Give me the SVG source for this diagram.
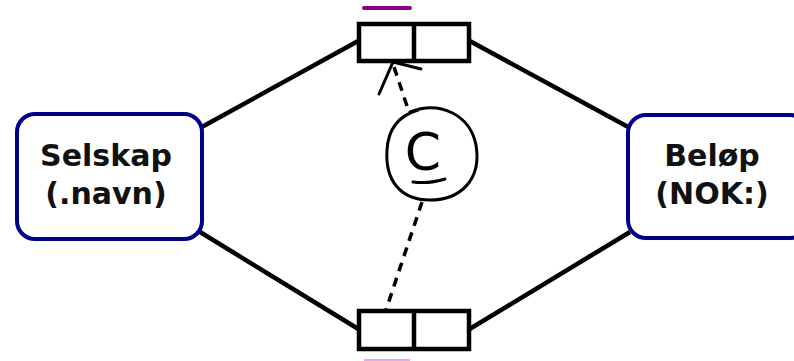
<svg xmlns="http://www.w3.org/2000/svg" width="794" height="361" viewBox="0 0 794 361">
<style>
.node{fill:#fff;stroke:#00008b;stroke-width:4}
.lbl{font-family:"DejaVu Sans",Verdana,sans-serif;font-weight:bold;font-size:30px;fill:#111;text-anchor:middle}
.edge{stroke:#000;stroke-width:4.5;fill:none}
.box{fill:#fff;stroke:#000;stroke-width:4.5}
.hand{stroke:#000;stroke-width:3;fill:none;stroke-linecap:round}
.dash{stroke:#000;stroke-width:3.5;fill:none;stroke-dasharray:9 7}
</style>
<g id="connectors">
<line class="edge" x1="200" y1="128" x2="360" y2="40"/>
<line class="edge" x1="200" y1="232" x2="360" y2="330"/>
<line class="edge" x1="468" y1="40" x2="630" y2="128"/>
<line class="edge" x1="468" y1="330" x2="630" y2="232"/>
<path class="dash" d="M407 106 L393 64"/>
<path class="hand" d="M379 94 L393 62 L421 69" stroke-width="3.5"/>
<path class="dash" d="M422 202 L386 310"/>
</g>
<g id="selskap">
<rect class="node" x="17" y="114" width="185" height="125" rx="18"/>
<text class="lbl" x="106" y="166">Selskap</text>
<text class="lbl" x="106" y="204">(.navn)</text>
</g>
<g id="belop">
<rect class="node" x="628" y="115" width="180" height="123" rx="18"/>
<text class="lbl" x="712" y="166">Beløp</text>
<text class="lbl" x="712" y="204">(NOK:)</text>
</g>
<g id="top-box">
<line x1="364" y1="8" x2="410" y2="8" stroke="#8b008b" stroke-width="4" stroke-linecap="round"/>
<rect class="box" x="359" y="24" width="110" height="37"/>
<line x1="414" y1="24" x2="414" y2="61" stroke="#000" stroke-width="4.5"/>
</g>
<g id="bottom-box">
<rect class="box" x="359" y="311" width="110" height="38"/>
<line x1="414" y1="311" x2="414" y2="349" stroke="#000" stroke-width="4.5"/>
<line x1="364" y1="361" x2="410" y2="361" stroke="#e6a8e6" stroke-width="4"/>
</g>
<g id="c-circle">
<path class="hand" d="M410 112 C440 100 470 115 476 145 C482 180 460 200 430 200 C400 200 385 180 387 150 C388 130 398 116 418 110"/>
<text x="423" y="170" font-family="'DejaVu Sans',sans-serif" font-weight="normal" font-size="52" text-anchor="middle" fill="#000">C</text>
<path class="hand" d="M413 182 Q430 184 445 179"/>
</g>
</svg>
